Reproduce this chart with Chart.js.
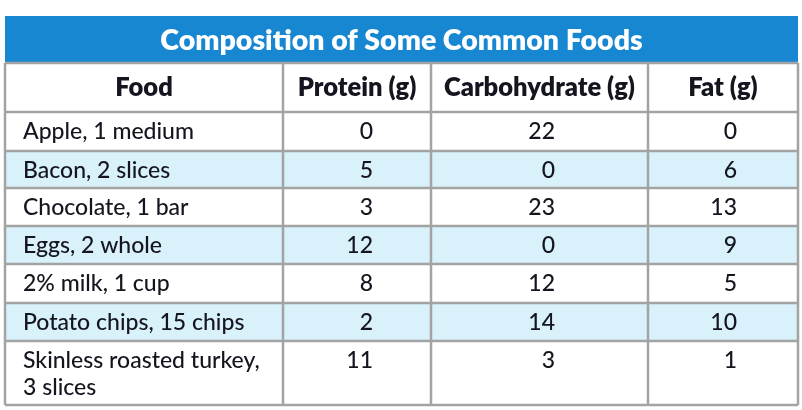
<!DOCTYPE html>
<html>
<head>
<meta charset="utf-8">
<script src="https://cdn.jsdelivr.net/npm/chart.js@4.4.0/dist/chart.umd.min.js"></script>
<style>
  html, body { margin: 0; padding: 0; background: #fff; }
  #wrap { width: 802px; height: 410px; }
</style>
</head>
<body>
<div id="wrap"><canvas id="foods"></canvas></div>
<script>
// table content
const title = 'Composition of Some Common Foods'
const columns = ['Food', 'Protein (g)', 'Carbohydrate (g)', 'Fat (g)']
const foods = [
  'Apple, 1 medium',
  'Bacon, 2 slices',
  'Chocolate, 1 bar',
  'Eggs, 2 whole',
  '2% milk, 1 cup',
  'Potato chips, 15 chips',
  'Skinless roasted turkey,\n3 slices'
]
const protein = [0, 5, 3, 12, 8, 2, 11]
const carbohydrate = [22, 0, 23, 0, 12, 14, 3]
const fat = [0, 6, 13, 9, 5, 10, 1]
const shaded = [false, true, false, true, false, true, false]

// layout, in scale units (x: 0..793, y: 0..389 from the top)
const colEdges = [0, 278, 426, 643, 793]
const rowEdges = [0, 47, 96, 135, 172, 210, 248, 287, 325, 389]
const numRight = [368, 550, 732]

const FONT = 'Lato, "DejaVu Sans", sans-serif'
const TEXT = '#15151f'
const GRID = '#a3a3a3'

const tablePlugin = {
  id: 'table',
  beforeDraw(chart) {
    const ctx = chart.ctx
    const X = v => chart.scales.x.getPixelForValue(v)
    const Y = v => chart.scales.y.getPixelForValue(v)
    const left = X(0), right = X(793)
    ctx.save()

    // title band
    ctx.fillStyle = '#1887d2'
    ctx.fillRect(left, Y(rowEdges[0]), right - left, Y(rowEdges[1]) - Y(rowEdges[0]))

    // shaded rows
    ctx.fillStyle = '#d8f1fa'
    shaded.forEach((s, i) => {
      if (!s) return
      ctx.fillRect(left, Y(rowEdges[i + 2]), right - left, Y(rowEdges[i + 3]) - Y(rowEdges[i + 2]))
    })

    // grid
    ctx.strokeStyle = GRID
    ctx.lineWidth = 2.5
    ctx.beginPath()
    for (let r = 1; r < rowEdges.length; r++) {
      ctx.moveTo(left, Y(rowEdges[r]))
      ctx.lineTo(right, Y(rowEdges[r]))
    }
    colEdges.forEach(c => {
      ctx.moveTo(X(c), Y(rowEdges[1]))
      ctx.lineTo(X(c), Y(rowEdges[rowEdges.length - 1]))
    })
    ctx.stroke()

    // title text
    ctx.fillStyle = '#fff'
    ctx.textAlign = 'center'
    ctx.textBaseline = 'middle'
    ctx.font = '800 28.5px ' + FONT
    ctx.fillText(title, (left + right) / 2, (Y(rowEdges[0]) + Y(rowEdges[1])) / 2 + 1)

    // header
    ctx.fillStyle = TEXT
    ctx.font = '800 25.5px ' + FONT
    columns.forEach((c, i) => {
      ctx.fillText(c, (X(colEdges[i]) + X(colEdges[i + 1])) / 2, (Y(rowEdges[1]) + Y(rowEdges[2])) / 2)
    })

    // body rows
    ctx.font = '500 23px ' + FONT
    const values = [protein, carbohydrate, fat]
    foods.forEach((f, i) => {
      const top = Y(rowEdges[i + 2])
      const lineY = top + 20
      ctx.textAlign = 'left'
      f.split('\n').forEach((line, k) => ctx.fillText(line, X(18), lineY + k * 27))
      ctx.textAlign = 'right'
      values.forEach((arr, j) => ctx.fillText(String(arr[i]), X(numRight[j]), lineY))
    })
    ctx.restore()
  }
}

new Chart(document.getElementById('foods'), {
  type: 'scatter',
  data: { labels: foods, datasets: [] },
  options: {
    responsive: true,
    maintainAspectRatio: false,
    animation: false,
    layout: { padding: { left: 5, top: 16, right: 4, bottom: 5 } },
    plugins: { legend: { display: false }, tooltip: { enabled: false } },
    scales: {
      x: { type: 'linear', min: 0, max: 793, offset: false, display: false },
      y: { type: 'linear', min: 0, max: 389, reverse: true, offset: false, display: false }
    }
  },
  plugins: [tablePlugin]
})
</script>
</body>
</html>
